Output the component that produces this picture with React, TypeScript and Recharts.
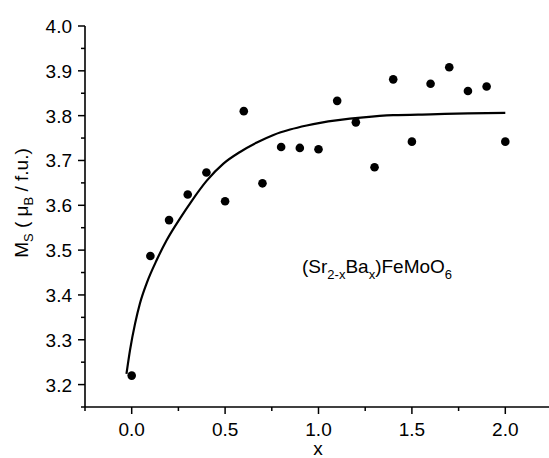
import React from 'react';
import { ComposedChart, Line, Scatter, XAxis, YAxis } from 'recharts';

// measured points
const xValues = [0, 0.1, 0.2, 0.3, 0.4, 0.5, 0.6, 0.7, 0.8, 0.9, 1.0, 1.1, 1.2, 1.3, 1.4, 1.5, 1.6, 1.7, 1.8, 1.9, 2.0];
const msValues = [3.22, 3.487, 3.567, 3.624, 3.673, 3.609, 3.81, 3.649, 3.73, 3.728, 3.725, 3.833, 3.785, 3.685, 3.881, 3.742, 3.871, 3.908, 3.855, 3.865, 3.742];

// fitted curve
const fitX = [-0.028, -0.009, 0.018, 0.044, 0.08, 0.134, 0.187, 0.259, 0.32, 0.402, 0.491, 0.58, 0.67, 0.759, 0.848, 0.937, 1.009, 1.241, 1.4, 1.6, 1.8, 2.0];
const fitY = [3.224, 3.277, 3.336, 3.381, 3.426, 3.478, 3.522, 3.571, 3.609, 3.655, 3.693, 3.719, 3.74, 3.757, 3.769, 3.778, 3.784, 3.796, 3.801, 3.803, 3.805, 3.806];

const xTicks = [-0.25, 0, 0.25, 0.5, 0.75, 1.0, 1.25, 1.5, 1.75, 2.0, 2.25];
const xMajor = [0, 0.5, 1.0, 1.5, 2.0];
const yTicks = [3.15, 3.2, 3.25, 3.3, 3.35, 3.4, 3.45, 3.5, 3.55, 3.6, 3.65, 3.7, 3.75, 3.8, 3.85, 3.9, 3.95, 4.0];
const yMajor = [3.2, 3.3, 3.4, 3.5, 3.6, 3.7, 3.8, 3.9, 4.0];

const points = xValues.map((x, i) => ({ x, y: msValues[i] }));
const curve = fitX.map((x, i) => ({ x, y: fitY[i] }));

const FONT = 'Arial, "Liberation Sans", Helvetica, sans-serif';
const isMajor = (list: number[], v: number) => list.some((m) => Math.abs(m - v) < 1e-6);

const XTick = (props: any) => {
  const { x, y, payload } = props;
  const major = isMajor(xMajor, payload.value);
  return (
    <g>
      <line x1={x} y1={y} x2={x} y2={y + (major ? 7 : 4)} stroke="#000" strokeWidth={1.5} />
      {major && (
        <text x={x} y={y + 29} textAnchor="middle" fontSize={19} fontFamily={FONT} fill="#000">
          {payload.value.toFixed(1)}
        </text>
      )}
    </g>
  );
};

const YTick = (props: any) => {
  const { x, y, payload } = props;
  const major = isMajor(yMajor, payload.value);
  return (
    <g>
      <line x1={x - (major ? 7 : 4)} y1={y} x2={x} y2={y} stroke="#000" strokeWidth={1.5} />
      {major && (
        <text x={x - 13} y={y + 7} textAnchor="end" fontSize={19} fontFamily={FONT} fill="#000">
          {payload.value.toFixed(1)}
        </text>
      )}
    </g>
  );
};

const Dot = (props: any) => <circle cx={props.cx} cy={props.cy} r={4.3} fill="#000" />;

export default function App() {
  return (
    <div style={{ position: 'absolute', left: 0, top: 0, width: 549, height: 458, overflow: 'hidden', background: '#fff' }}>
      <ComposedChart width={552} height={458} margin={{ top: 26, right: 0, bottom: 0, left: 0 }}>
        <XAxis
          dataKey="x"
          type="number"
          domain={[-0.25, 2.25]}
          ticks={xTicks}
          interval={0}
          height={51}
          tickSize={0}
          tickMargin={0}
          tickLine={false}
          tick={<XTick />}
          axisLine={{ stroke: '#000', strokeWidth: 1.6 }}
          allowDataOverflow
        />
        <YAxis
          dataKey="y"
          type="number"
          domain={[3.15, 4.0]}
          ticks={yTicks}
          interval={0}
          width={85}
          tickSize={0}
          tickMargin={0}
          tickLine={false}
          tick={<YTick />}
          axisLine={{ stroke: '#000', strokeWidth: 1.6 }}
          allowDataOverflow
        />
        <Line
          data={curve}
          dataKey="y"
          type="monotone"
          stroke="#000"
          strokeWidth={2.2}
          dot={false}
          activeDot={false}
          isAnimationActive={false}
        />
        <Scatter data={points} dataKey="y" fill="#000" shape={<Dot />} isAnimationActive={false} />
        <text x={318} y={455} textAnchor="middle" fontSize={19} fontFamily={FONT} fill="#000">
          x
        </text>
        <text transform="translate(28,203) rotate(-90)" textAnchor="middle" fontSize={19} fontFamily={FONT} fill="#000">
          M
          <tspan fontSize={13} dy={5}>S</tspan>
          <tspan dy={-5}> ( μ</tspan>
          <tspan fontSize={13} dy={5}>B</tspan>
          <tspan dy={-5}> / f.u.)</tspan>
        </text>
        <text x={302} y={273} fontSize={19} fontFamily={FONT} fill="#000">
          (Sr
          <tspan fontSize={13} dy={6}>2-x</tspan>
          <tspan dy={-6}>Ba</tspan>
          <tspan fontSize={13} dy={6}>x</tspan>
          <tspan dy={-6}>)FeMoO</tspan>
          <tspan fontSize={13} dy={6}>6</tspan>
        </text>
      </ComposedChart>
    </div>
  );
}
